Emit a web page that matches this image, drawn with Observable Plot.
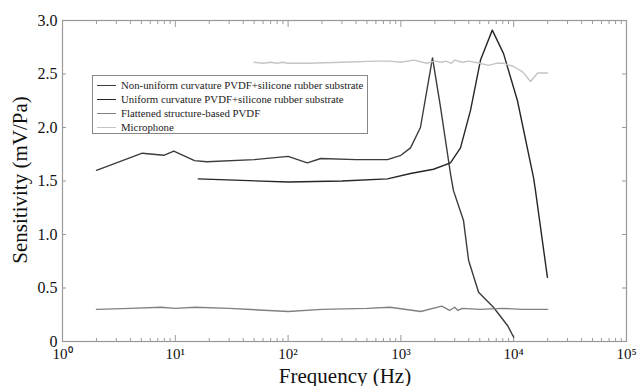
<!DOCTYPE html>
<html>
<head>
<meta charset="utf-8">
<script src="https://cdn.jsdelivr.net/npm/d3@7"></script>
<script src="https://cdn.jsdelivr.net/npm/@observablehq/plot@0.6"></script>
<style>
  html, body { margin: 0; padding: 0; background: #fff; overflow: hidden; }
  #wrap { position: relative; width: 637px; height: 386px; font-family: "Liberation Serif", "DejaVu Serif", serif; }
  #legend { position: absolute; left: 92px; top: 75px; width: 276px; height: 59px; border: 1px solid #888; background: #fff; box-sizing: border-box; padding: 2px 0 0 4px; font-size: 10.8px; color: #222; }
  #legend div { height: 14px; line-height: 14px; display: flex; align-items: center; white-space: nowrap; }
  #legend span.sw { flex: 0 0 19px; display: inline-block; width: 19px; height: 0; border-top: 1.5px solid; margin-right: 5px; }
  #ylab { position: absolute; left: 20px; top: 180px; transform: translate(-50%, -50%) rotate(-90deg); font-size: 21px; white-space: nowrap; color: #111; }
  #xlab { position: absolute; left: 345px; top: 376px; transform: translate(-50%, -50%); font-size: 21px; line-height: 19px; white-space: nowrap; color: #111; }
</style>
</head>
<body>
<div id="wrap"><div id="chart"></div><div id="legend"></div><div id="ylab">Sensitivity (mV/Pa)</div><div id="xlab">Frequency (Hz)</div></div>
<script>
const seriesNames = [
  "Non-uniform curvature PVDF+silicone rubber substrate",
  "Uniform curvature PVDF+silicone rubber substrate",
  "Flattened structure-based PVDF",
  "Microphone"
];
const seriesColors = ["#3c3c3c", "#262626", "#808080", "#c4c4c4"];

// Non-uniform curvature (freq Hz, sensitivity mV/Pa)
const nonUniformFreq = [2, 5.1, 7.9, 9.7, 14.8, 19, 50, 100, 148, 195, 400, 760, 1000, 1217, 1490, 1906, 2245, 2750, 2925, 3590, 3980, 4880, 6610, 8810, 10000];
const nonUniformSens = [1.60, 1.76, 1.74, 1.78, 1.69, 1.68, 1.70, 1.73, 1.67, 1.71, 1.70, 1.70, 1.74, 1.81, 2.00, 2.65, 2.19, 1.57, 1.41, 1.13, 0.76, 0.46, 0.32, 0.15, 0.04];

// Uniform curvature
const uniformFreq = [16, 100, 300, 760, 1217, 1945, 2750, 3375, 4140, 5080, 6460, 8130, 10800, 15000, 15600, 19900];
const uniformSens = [1.52, 1.49, 1.50, 1.52, 1.57, 1.61, 1.67, 1.81, 2.16, 2.63, 2.91, 2.69, 2.25, 1.53, 1.41, 0.60];

// Flattened structure-based PVDF
const flatFreq = [2, 4, 7.5, 10, 15, 30, 100, 200, 500, 800, 1500, 2300, 2700, 3000, 3200, 3500, 5000, 8000, 12000, 20000];
const flatSens = [0.30, 0.31, 0.32, 0.31, 0.32, 0.31, 0.28, 0.30, 0.31, 0.32, 0.28, 0.33, 0.29, 0.32, 0.29, 0.31, 0.30, 0.31, 0.30, 0.30];

// Microphone
const micFreq = [50, 60, 70, 80, 90, 100, 150, 300, 600, 800, 1000, 1300, 1700, 2000, 2300, 2500, 2800, 3000, 3500, 4000, 5000, 6000, 7000, 8100, 10000, 12000, 14100, 16300, 20000];
const micSens = [2.61, 2.60, 2.61, 2.60, 2.61, 2.60, 2.60, 2.61, 2.62, 2.62, 2.61, 2.63, 2.60, 2.62, 2.61, 2.62, 2.60, 2.63, 2.61, 2.62, 2.60, 2.58, 2.60, 2.60, 2.57, 2.52, 2.43, 2.51, 2.51];

const xMajor = [1, 10, 100, 1000, 10000, 100000];
const xMajorLabels = ["10⁰", "10¹", "10²", "10³", "10⁴", "10⁵"];
const yTicks = [0, 0.5, 1.0, 1.5, 2.0, 2.5, 3.0];
const yTickLabels = ["0", "0.5", "1.0", "1.5", "2.0", "2.5", "3.0"];

const xMinor = [];
for (let e = 0; e < 5; e++) for (let m = 2; m <= 9; m++) xMinor.push(m * 10 ** e);

const freqs = [nonUniformFreq, uniformFreq, flatFreq, micFreq];
const sens = [nonUniformSens, uniformSens, flatSens, micSens];
const data = [];
seriesNames.forEach((name, i) => freqs[i].forEach((f, j) => data.push({series: name, f, s: sens[i][j]})));

const axisColor = "#999";
const chart = Plot.plot({
  width: 637,
  height: 386,
  marginLeft: 62,
  marginRight: 11,
  marginTop: 20,
  marginBottom: 45,
  style: {fontFamily: "'Liberation Serif', serif", fontSize: "15px", color: "#111", background: "#fff"},
  x: {type: "log", domain: [1, 100000]},
  y: {domain: [0, 3]},
  color: {domain: seriesNames, range: seriesColors},
  marks: [
    Plot.frame({stroke: axisColor, strokeWidth: 1.2}),
    Plot.axisX(xMajor, {anchor: "bottom", tickSize: 0, tickPadding: 7, tickFormat: (d) => xMajorLabels[xMajor.indexOf(d)], fontSize: 15, label: null}),
    Plot.axisX(xMajor, {anchor: "bottom", tickSize: -6, text: null, stroke: axisColor, label: null}),
    Plot.axisX(xMinor, {anchor: "bottom", tickSize: -3, text: null, stroke: axisColor, label: null}),
    Plot.axisX(xMajor, {anchor: "top", tickSize: -6, text: null, stroke: axisColor, label: null}),
    Plot.axisX(xMinor, {anchor: "top", tickSize: -3, text: null, stroke: axisColor, label: null}),
    Plot.axisY(yTicks, {anchor: "left", tickSize: 0, tickPadding: 5, tickFormat: (d) => yTickLabels[yTicks.indexOf(d)], fontSize: 16, label: null}),
    Plot.axisY(yTicks, {anchor: "left", tickSize: -4, text: null, stroke: axisColor, label: null}),
    Plot.axisY(yTicks, {anchor: "right", tickSize: -5, text: null, stroke: axisColor, label: null}),
    Plot.line(data, {x: "f", y: "s", z: "series", stroke: "series", strokeWidth: 1.4})
  ]
});
document.getElementById("chart").appendChild(chart);

const legend = document.getElementById("legend");
seriesNames.forEach((name, i) => {
  const row = document.createElement("div");
  const sw = document.createElement("span");
  sw.className = "sw";
  sw.style.borderColor = seriesColors[i];
  row.appendChild(sw);
  row.appendChild(document.createTextNode(name));
  legend.appendChild(row);
});
</script>
</body>
</html>
